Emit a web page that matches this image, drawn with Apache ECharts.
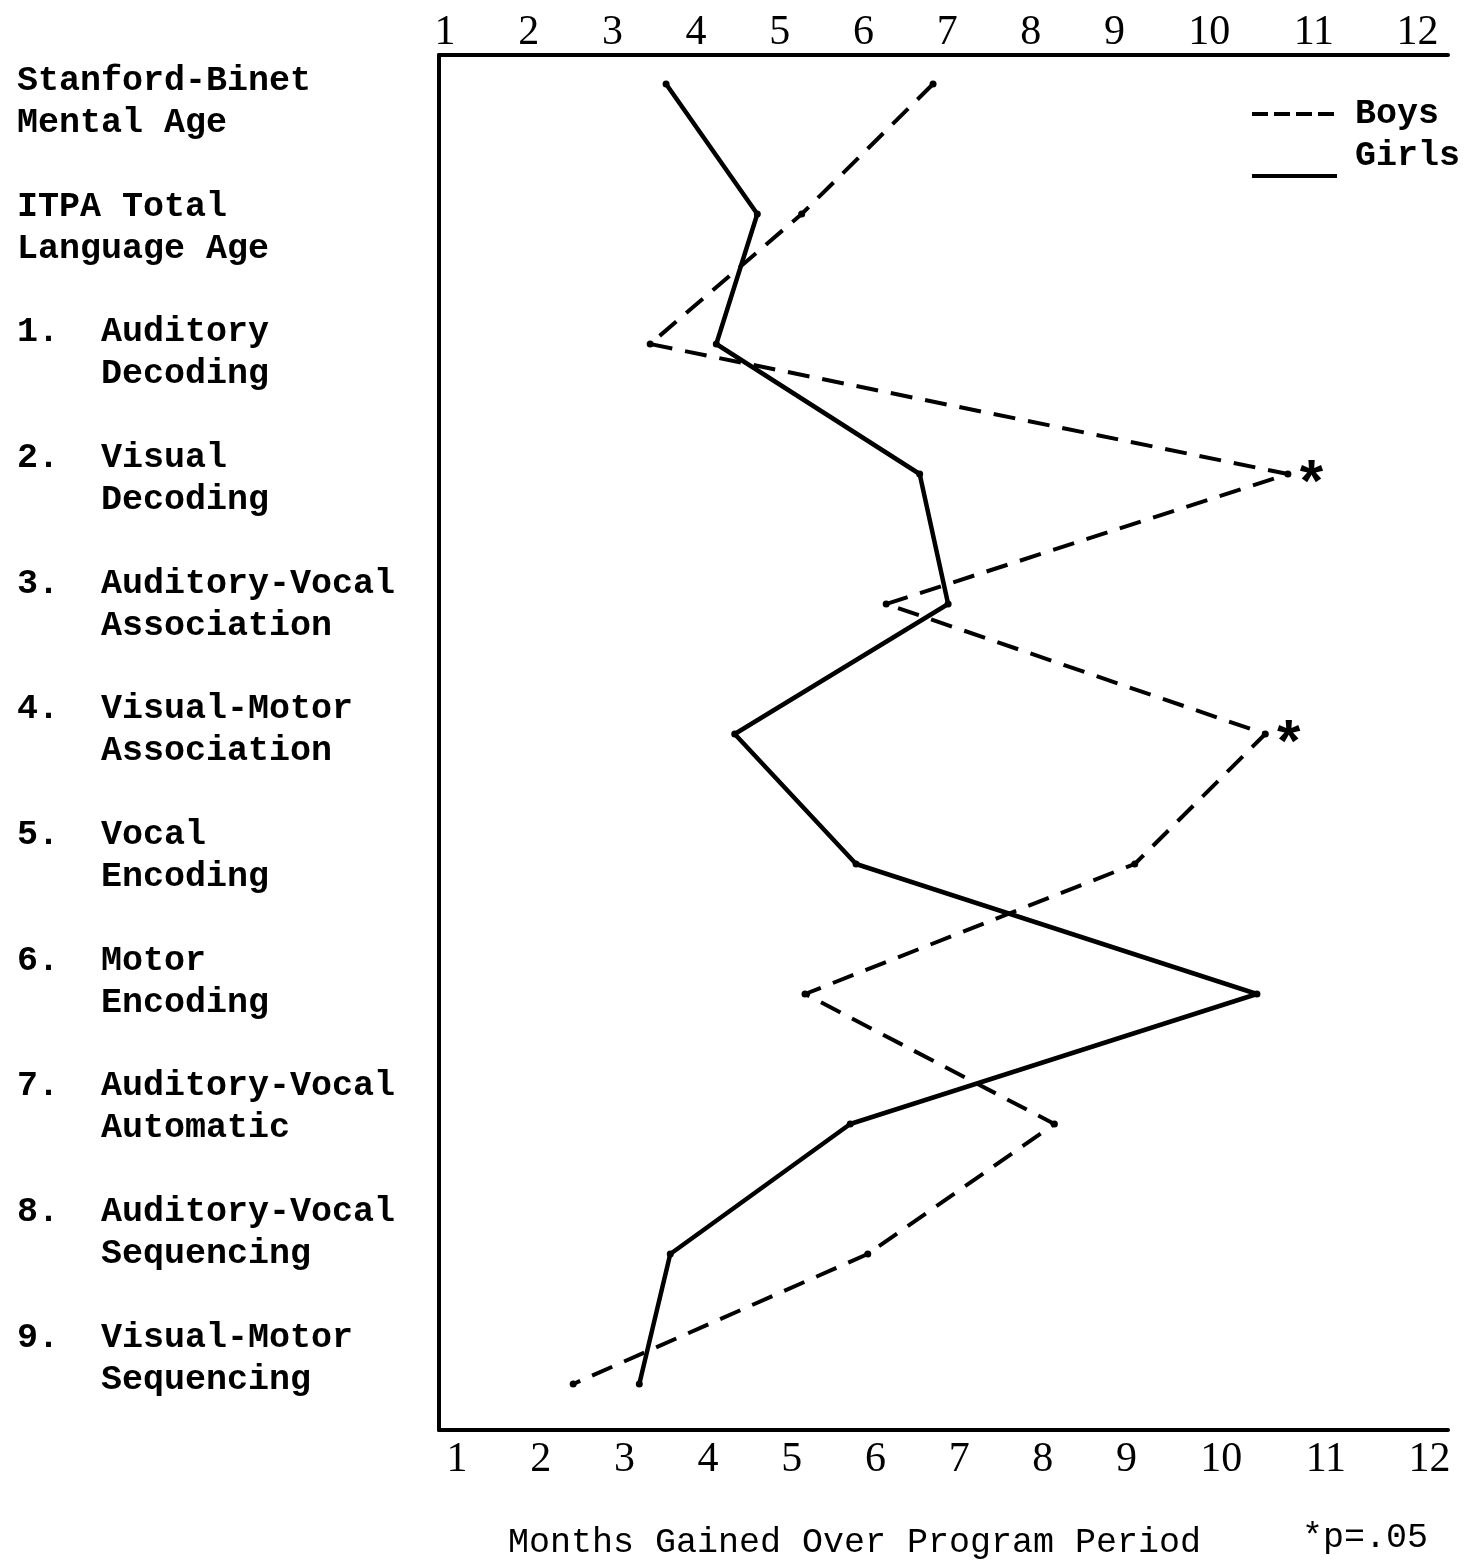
<!DOCTYPE html>
<html>
<head>
<meta charset="utf-8">
<script src="https://cdn.jsdelivr.net/npm/echarts@6/dist/echarts.min.js"></script>
<style>
  html, body { margin: 0; padding: 0; background: #fff; }
  #chart { width: 1465px; height: 1564px; }
</style>
</head>
<body>
<div id="chart"></div>
<script>
// ---------------- DATA ----------------
const categories = [
  'Stanford-Binet\nMental Age',
  'ITPA Total\nLanguage Age',
  '1.  Auditory\n    Decoding',
  '2.  Visual\n    Decoding',
  '3.  Auditory-Vocal\n    Association',
  '4.  Visual-Motor\n    Association',
  '5.  Vocal\n    Encoding',
  '6.  Motor\n    Encoding',
  '7.  Auditory-Vocal\n    Automatic',
  '8.  Auditory-Vocal\n    Sequencing',
  '9.  Visual-Motor\n    Sequencing'
];
const boys  = [6.76, 5.19, 3.38, 11.0, 6.20, 10.73, 9.17, 5.23, 8.21, 5.98, 2.46];
const girls = [3.57, 4.66, 4.17, 6.60, 6.94, 4.39, 5.84, 10.63, 5.77, 3.62, 3.25];
const boysSignificant = [false, false, false, true, false, true, false, false, false, false, false];
const tickValues = [1, 2, 3, 4, 5, 6, 7, 8, 9, 10, 11, 12];
const tickLabels = ['1', '2', '3', '4', '5', '6', '7', '8', '9', '10', '11', '12'];
const axisTitle = 'Months Gained Over Program Period';
const footnote = '*p=.05';
const seriesNames = ['Boys', 'Girls'];

// ---------------- STYLE ----------------
const MONO = "'Liberation Mono', 'DejaVu Sans Mono', monospace";
const DIGIT = "'Liberation Serif', 'DejaVu Serif', serif";
const X_MIN = 0.8566, X_MAX = 12.913;
// typed tick labels drift right of the uniform scale (typewriter spacing)
const TYPED_DRIFT = {10: 11, 11: 32, 12: 52};

function makeRich(skew) {
  const rich = {};
  tickValues.forEach(function (v) {
    const d = (TYPED_DRIFT[v] || 0) + skew;
    rich['t' + v] = {
      fontFamily: DIGIT, fontSize: 42, color: '#000',
      padding: d >= 0 ? [0, 0, 0, 2 * d] : [0, -2 * d, 0, 0]
    };
  });
  return rich;
}
function fmt(v) {
  const i = tickValues.indexOf(Math.round(v));
  return '{t' + tickValues[i] + '|' + tickLabels[i] + '}';
}

const frameLine = { show: true, onZero: false, lineStyle: { color: '#000', width: 4 } };

const boysData = boys.map(function (v, i) {
  const item = { value: [v, categories[i]] };
  if (boysSignificant[i]) {
    item.label = {
      show: true, formatter: '*', position: 'right', distance: 2,
      offset: [0, 14], fontFamily: MONO, fontWeight: 'bold', fontSize: 60, color: '#000'
    };
  }
  return item;
});
const girlsData = girls.map(function (v, i) { return [v, categories[i]]; });

const BOYS_ICON = 'path://M0,0h0.1v0.1h-0.1z M85,44h-0.1v-0.1h0.1z M0,20h16v4h-16z M22,20h16v4h-16z M44,20h16v4h-16z M66,20h16v4h-16z';
const GIRLS_ICON = 'path://M0,0h0.1v0.1h-0.1z M0,40h85v4h-85z';

const option = {
  backgroundColor: '#fff',
  animation: false,
  title: [
    { text: axisTitle, left: 508, top: 1525, padding: 0,
      textStyle: { fontFamily: MONO, fontWeight: 'normal', fontSize: 35, color: '#000' } },
    { text: footnote, left: 1302, top: 1520, padding: 0,
      textStyle: { fontFamily: MONO, fontWeight: 'normal', fontSize: 35, color: '#000' } }
  ],
  legend: {
    orient: 'vertical', left: 1252, top: 92, padding: 0,
    itemWidth: 85, itemHeight: 44, itemGap: -2,
    data: [{ name: seriesNames[0], icon: BOYS_ICON }, { name: seriesNames[1], icon: GIRLS_ICON }],
    itemStyle: { borderWidth: 0 },
    textStyle: { fontFamily: MONO, fontWeight: 'bold', fontSize: 35, color: '#000', padding: [0, 0, 0, 13] }
  },
  grid: [
    { left: 439, right: 17, top: 55, bottom: 134 },
    { left: 439, right: 17, top: 19, bottom: 115 },
    { left: 17, width: 10, top: 102, bottom: 205 }
  ],
  xAxis: [
    { gridIndex: 0, type: 'value', position: 'top', min: X_MIN, max: X_MAX,
      axisLine: frameLine, axisTick: { show: false }, splitLine: { show: false },
      axisLabel: { customValues: tickValues, formatter: fmt, rich: makeRich(-6), margin: 1 } },
    { gridIndex: 0, type: 'value', position: 'bottom', min: X_MIN, max: X_MAX,
      axisLine: frameLine, axisTick: { show: false }, splitLine: { show: false },
      axisLabel: { customValues: tickValues, formatter: fmt, rich: makeRich(6), margin: 9 } },
    { gridIndex: 1, type: 'value', min: X_MIN, max: X_MAX, show: false },
    { gridIndex: 2, type: 'value', min: 0, max: 1, show: false }
  ],
  yAxis: [
    { gridIndex: 0, type: 'value', min: 0, max: 1, axisLine: frameLine,
      axisTick: { show: false }, axisLabel: { show: false }, splitLine: { show: false } },
    { gridIndex: 1, type: 'category', data: categories, inverse: true, boundaryGap: true, show: false },
    { gridIndex: 2, type: 'category', data: categories, inverse: true, boundaryGap: false,
      axisLine: { show: false }, axisTick: { show: false }, splitLine: { show: false },
      axisLabel: { interval: 0, align: 'left', margin: 0, fontFamily: MONO, fontWeight: 'bold',
        fontSize: 35, lineHeight: 42, color: '#000' } }
  ],
  series: [
    { name: seriesNames[0], type: 'line', xAxisIndex: 2, yAxisIndex: 1, data: boysData,
      symbol: 'circle', symbolSize: 7, itemStyle: { color: '#000' },
      lineStyle: { color: '#000', width: 4, type: [22, 13] } },
    { name: seriesNames[1], type: 'line', xAxisIndex: 2, yAxisIndex: 1, data: girlsData,
      symbol: 'circle', symbolSize: 7, itemStyle: { color: '#000' },
      lineStyle: { color: '#000', width: 4.5, type: 'solid' } }
  ]
};

const chart = echarts.init(document.getElementById('chart'), null, { renderer: 'canvas' });
chart.setOption(option);
</script>
</body>
</html>
